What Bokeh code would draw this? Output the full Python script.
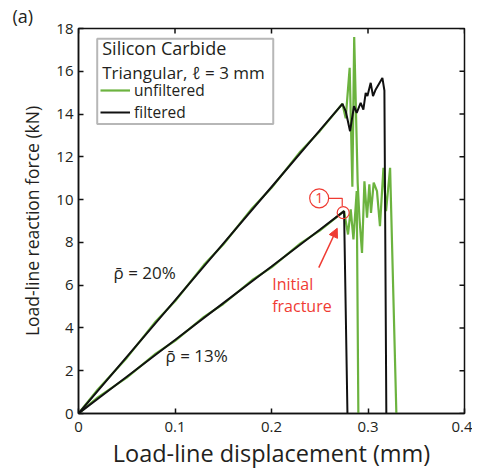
from bokeh.plotting import figure
from bokeh.models import FixedTicker, Range1d, Label, Arrow, NormalHead, BoxAnnotation, Legend, LegendItem
from bokeh.embed import file_html
from bokeh.resources import INLINE

# ---------------- data ----------------
x_ticks = [0, 0.1, 0.2, 0.3, 0.4]
x_tick_labels = ["0", "0.1", "0.2", "0.3", "0.4"]
y_ticks = [0, 2, 4, 6, 8, 10, 12, 14, 16, 18]

# rho = 20 %, filtered
disp_f20 = [0.0, 0.05, 0.10, 0.15, 0.20, 0.25, 0.2735, 0.2769, 0.2814, 0.2855, 0.2883,
            0.2924, 0.2952, 0.2976, 0.2994, 0.3028, 0.3052, 0.3080, 0.3149, 0.3170, 0.3190]
force_f20 = [0.0, 2.65, 5.29, 7.94, 10.59, 13.24, 14.48, 14.14, 13.20, 14.37, 14.06,
             14.52, 14.21, 14.99, 14.84, 15.46, 14.84, 15.15, 15.69, 15.10, 0.0]

# rho = 20 %, unfiltered
disp_u20 = [0.0, 0.02, 0.05, 0.08, 0.10, 0.13, 0.15, 0.18, 0.20, 0.23, 0.25, 0.2735,
            0.2769, 0.2810, 0.2838, 0.2857, 0.2893, 0.2911, 0.2938, 0.2963, 0.2990,
            0.3014, 0.3031, 0.3059, 0.3093, 0.3124, 0.3160, 0.3187, 0.3229, 0.3294]
force_u20 = [0.0, 1.12, 2.60, 4.30, 5.25, 6.95, 7.90, 9.60, 10.55, 12.25, 13.20, 14.48,
             13.80, 16.16, 10.60, 17.60, 10.79, 9.15, 7.51, 10.86, 9.15,
             10.71, 9.38, 10.79, 10.40, 8.76, 11.49, 9.46, 11.49, 0.0]

# rho = 13 %, filtered
disp_f13 = [0.0, 0.05, 0.10, 0.15, 0.20, 0.25, 0.2752, 0.2787]
force_f13 = [0.0, 1.72, 3.44, 5.16, 6.87, 8.59, 9.46, 0.0]

# rho = 13 %, unfiltered
disp_u13 = [0.0, 0.02, 0.05, 0.08, 0.10, 0.13, 0.15, 0.18, 0.20, 0.23, 0.25, 0.2752,
            0.2793, 0.2821, 0.2849, 0.2883, 0.2900]
force_u13 = [0.0, 0.75, 1.68, 2.80, 3.40, 4.52, 5.12, 6.24, 6.83, 7.95, 8.55, 9.46,
             8.37, 9.54, 8.14, 10.40, 0.0]

# ---------------- style ----------------
FONT = "Open Sans"
TXT = "#231f20"
GREEN = "#6cb33f"
BLACK = "#111111"
RED = "#ef3b33"
X_MAX, Y_MAX = 0.4, 18

p = figure(width=472, height=474, x_range=Range1d(0, X_MAX), y_range=Range1d(0, Y_MAX),
           output_backend="svg", toolbar_location=None,
           min_border_left=78, min_border_right=8, min_border_top=27, min_border_bottom=61,
           x_axis_label="Load-line displacement (mm)",
           y_axis_label="Load-line reaction force (kN)")
p.grid.visible = False
p.outline_line_color = BLACK
p.outline_line_width = 1.5
p.background_fill_color = "white"
p.border_fill_color = "white"

p.title.text = "(a)"
p.title.align = "left"
p.title.offset = -66
p.title.text_font = FONT
p.title.text_font_size = "18px"
p.title.text_font_style = "normal"
p.title.text_color = TXT
p.title.standoff = 2

for ax, t in ((p.xaxis[0], x_ticks), (p.yaxis[0], y_ticks)):
    ax.ticker = FixedTicker(ticks=t)
    ax.minor_tick_line_color = None
    ax.major_tick_in = 5
    ax.major_tick_out = 0
    ax.axis_line_color = BLACK
    ax.axis_line_width = 1.5
    ax.major_tick_line_color = BLACK
    ax.major_tick_line_width = 1.5
    ax.major_label_text_font = FONT
    ax.major_label_text_font_size = "15px"
    ax.major_label_text_color = TXT
    ax.axis_label_text_font = FONT
    ax.axis_label_text_font_style = "normal"
    ax.axis_label_text_color = TXT

xa = p.xaxis[0]
ya = p.yaxis[0]
xa.major_label_overrides = dict(zip(x_ticks, x_tick_labels))
xa.major_label_standoff = 8
xa.axis_label_standoff = 2
xa.axis_label_text_font_size = "23.5px"
ya.major_label_standoff = 5
ya.axis_label_standoff = 9
ya.axis_label_text_font_size = "17.5px"

# inward ticks on the top and right edges of the box
tick_dy = 5 * Y_MAX / 386
tick_dx = 5 * X_MAX / 386
p.segment(x0=x_ticks, y0=[Y_MAX] * len(x_ticks), x1=x_ticks, y1=[Y_MAX - tick_dy] * len(x_ticks),
          line_color=BLACK, line_width=1.5)
p.segment(x0=[X_MAX] * len(y_ticks), y0=y_ticks, x1=[X_MAX - tick_dx] * len(y_ticks), y1=y_ticks,
          line_color=BLACK, line_width=1.5)

# ---------------- curves ----------------
r_u20 = p.line(disp_u20, force_u20, line_color=GREEN, line_width=2.2)
r_u13 = p.line(disp_u13, force_u13, line_color=GREEN, line_width=2.2)
r_f20 = p.line(disp_f20, force_f20, line_color=BLACK, line_width=2)
r_f13 = p.line(disp_f13, force_f13, line_color=BLACK, line_width=2)

# ---------------- legend box ----------------
p.add_layout(BoxAnnotation(left=0.0194, right=0.2018, bottom=13.54, top=17.52,
                           fill_alpha=0, line_color=BLACK, line_width=2))
p.add_layout(Label(x=0.0246, y=17.08, text="Silicon Carbide", text_font=FONT,
                   text_font_size="18px", text_color=TXT, text_baseline="middle"))
p.add_layout(Label(x=0.0246, y=15.92, text="Triangular, \u2113 = 3 mm", text_font=FONT,
                   text_font_size="17px", text_color=TXT, text_baseline="middle"))

legend = Legend(items=[LegendItem(label="unfiltered", renderers=[r_u20]),
                       LegendItem(label="filtered", renderers=[r_f20])],
                location=(22, 290), orientation="vertical", padding=0, margin=0, spacing=0,
                label_text_font=FONT, label_text_font_size="15.5px", label_text_color=TXT,
                glyph_width=30, glyph_height=18, label_height=18, label_standoff=4,
                border_line_alpha=0, background_fill_alpha=0)
p.add_layout(legend)

# ---------------- annotations ----------------
p.add_layout(Label(x=0.0363, y=6.58, text="\u03c1\u0304 = 20%", text_font=FONT,
                   text_font_size="17px", text_color=TXT, text_baseline="middle"))
p.add_layout(Label(x=0.0902, y=2.71, text="\u03c1\u0304 = 13%", text_font=FONT,
                   text_font_size="17px", text_color=TXT, text_baseline="middle"))
p.add_layout(Label(x=0.2007, y=6.05, text="Initial", text_font=FONT,
                   text_font_size="16px", text_color=RED, text_baseline="middle"))
p.add_layout(Label(x=0.2007, y=5.04, text="fracture", text_font=FONT,
                   text_font_size="16px", text_color=RED, text_baseline="middle"))
p.add_layout(Arrow(end=NormalHead(size=9, fill_color=RED, line_color=RED, line_width=1),
                   x_start=0.2490, y_start=6.82, x_end=0.2681, y_end=8.66,
                   line_color=RED, line_width=1.5))
p.scatter([0.2494], [10.06], size=19, marker="circle", fill_color=None,
          line_color=RED, line_width=1.2)
p.scatter([0.2743], [9.39], size=12, marker="circle", fill_color=None,
          line_color=RED, line_width=1.2)
p.line([0.2594, 0.2733, 0.2733], [10.06, 10.06, 9.70], line_color=RED, line_width=1.2)
p.add_layout(Label(x=0.2494, y=10.06, text="1", text_font=FONT, text_font_size="14px",
                   text_color=RED, text_align="center", text_baseline="middle"))

open("out.html", "w").write(file_html(p, INLINE))
